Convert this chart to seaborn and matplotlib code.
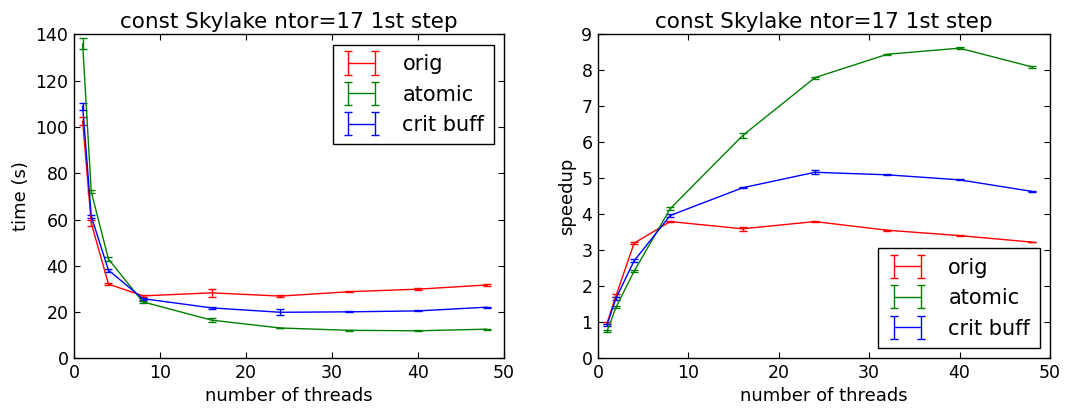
import matplotlib
matplotlib.use("Agg")
import matplotlib.pyplot as plt
from matplotlib.container import ErrorbarContainer
from matplotlib.legend_handler import HandlerErrorbar
import seaborn as sns

threads = [1, 2, 4, 8, 16, 24, 32, 40, 48]
labels = ["orig", "atomic", "crit buff"]
colors = ["#ff0000", "#008000", "#0000ff"]

# wall time (s)
time_orig = [102.5, 58.5, 32.1, 27.0, 28.3, 26.9, 28.8, 29.9, 31.7]
time_atomic = [136.0, 72.0, 42.9, 24.4, 16.5, 13.1, 12.1, 11.9, 12.6]
time_crit = [109.0, 61.4, 38.1, 25.8, 21.8, 19.9, 20.1, 20.5, 22.1]
time_orig_err = [1.8, 1.2, 0.5, 0.4, 1.6, 0.3, 0.3, 0.3, 0.3]
time_atomic_err = [2.4, 0.6, 0.8, 0.5, 1.0, 0.2, 0.2, 0.2, 0.2]
time_crit_err = [1.5, 0.6, 0.6, 0.4, 0.4, 1.3, 0.2, 0.2, 0.3]

# speedup
sp_orig = [0.97, 1.74, 3.2, 3.8, 3.6, 3.8, 3.56, 3.41, 3.23]
sp_atomic = [0.75, 1.42, 2.42, 4.16, 6.19, 7.8, 8.45, 8.62, 8.1]
sp_crit = [0.93, 1.67, 2.71, 3.97, 4.74, 5.17, 5.1, 4.96, 4.64]
sp_orig_err = [0.03, 0.04, 0.03, 0.02, 0.05, 0.02, 0.01, 0.01, 0.01]
sp_atomic_err = [0.03, 0.03, 0.03, 0.04, 0.08, 0.03, 0.02, 0.02, 0.02]
sp_crit_err = [0.03, 0.04, 0.04, 0.03, 0.02, 0.06, 0.01, 0.01, 0.02]

title = "const Skylake ntor=17 1st step"
xlabel = "number of threads"

sns.set_style("ticks")
plt.rcParams["font.family"] = ["DejaVu Sans"]
plt.rcParams.update({
    "xtick.direction": "in", "ytick.direction": "in",
    "xtick.top": True, "ytick.right": True,
    "xtick.major.size": 4, "ytick.major.size": 4,
    "axes.edgecolor": "black", "axes.linewidth": 1.0,
    "xtick.color": "black", "ytick.color": "black",
    "text.color": "black", "axes.labelcolor": "black",
    "font.size": 12,
})

fig = plt.figure(figsize=(10.67, 4.12), dpi=100)
ax1 = fig.add_axes([0.0694, 0.1303, 0.4030, 0.786])
ax2 = fig.add_axes([0.5604, 0.1303, 0.4236, 0.786])


def draw(ax, ys, errs):
    for y, e, lab, c in zip(ys, errs, labels, colors):
        ax.errorbar(threads, y, yerr=e, fmt="-", color=c, lw=1.0,
                    capsize=3, elinewidth=1.0, capthick=1.0, label=lab)


def add_legend(ax, loc):
    leg = ax.legend(loc=loc, numpoints=2, fontsize=15,
                    fancybox=False, framealpha=1, edgecolor="black",
                    handlelength=1.9, handletextpad=1.0, labelspacing=0.5,
                    borderpad=0.45, borderaxespad=0.5,
                    handler_map={ErrorbarContainer:
                                 HandlerErrorbar(xerr_size=0.5, yerr_size=0.56)})
    leg.get_frame().set_linewidth(1.0)


draw(ax1, [time_orig, time_atomic, time_crit],
     [time_orig_err, time_atomic_err, time_crit_err])
ax1.set_xlim(0, 50)
ax1.set_ylim(0, 140)
ax1.set_xticks(range(0, 51, 10))
ax1.set_yticks(range(0, 141, 20))
ax1.set_ylabel("time (s)", fontsize=13)
ax1.set_xlabel(xlabel, fontsize=13)
ax1.set_title(title, fontsize=15.5, pad=5)
add_legend(ax1, "upper right")

draw(ax2, [sp_orig, sp_atomic, sp_crit],
     [sp_orig_err, sp_atomic_err, sp_crit_err])
ax2.set_xlim(0, 50)
ax2.set_ylim(0, 9)
ax2.set_xticks(range(0, 51, 10))
ax2.set_yticks(range(0, 10))
ax2.set_ylabel("speedup", fontsize=13)
ax2.set_xlabel(xlabel, fontsize=13)
ax2.set_title(title, fontsize=15.5, pad=5)
add_legend(ax2, "lower right")

for ax in (ax1, ax2):
    ax.tick_params(labelsize=12.5, pad=4)

fig.savefig("out.png", dpi=100)
